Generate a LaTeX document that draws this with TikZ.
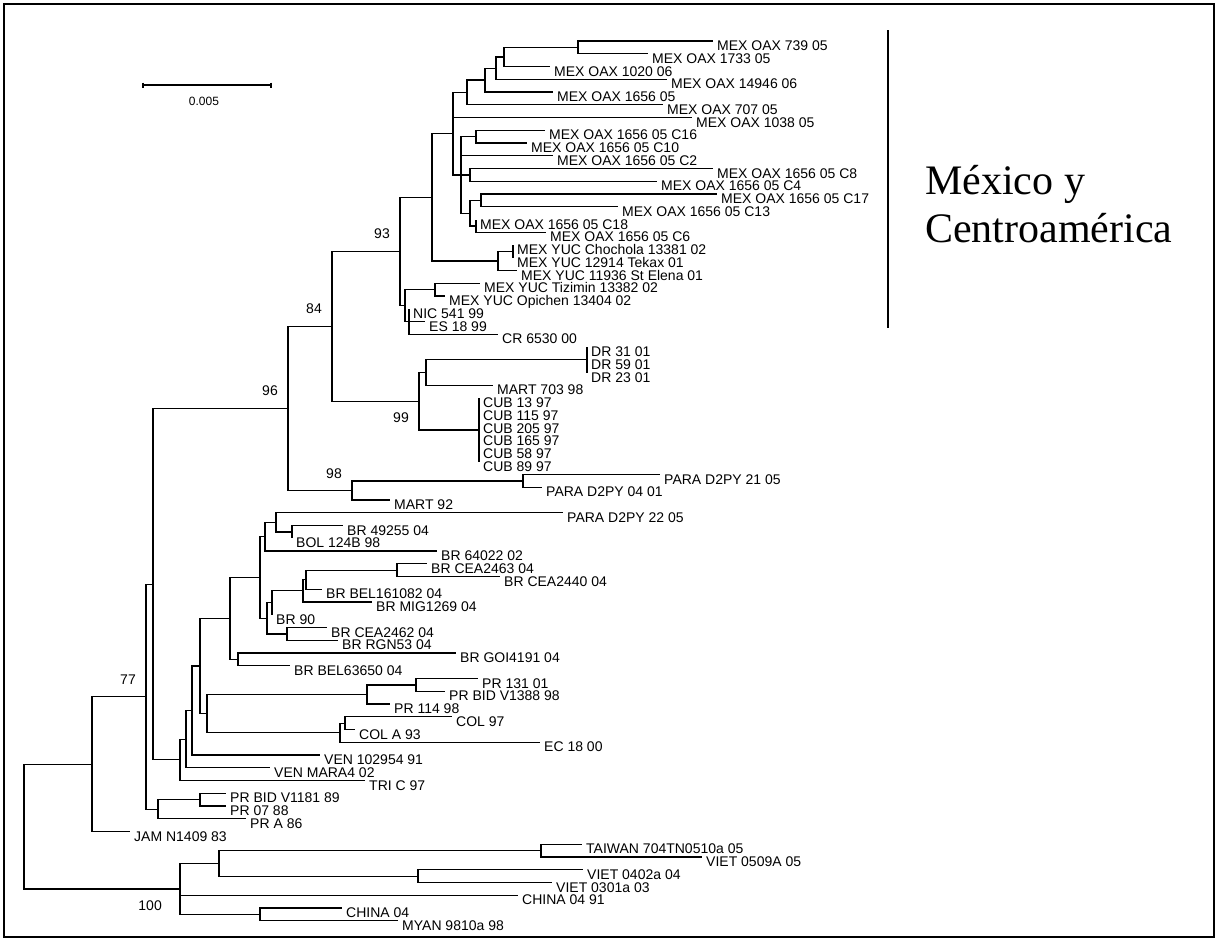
\documentclass[tikz,border=0pt]{standalone}
\usepackage{fontspec}
\setmainfont{Liberation Sans}
\newfontfamily\titlefont{Liberation Serif}
\tikzset{
  branch/.style={line width=1.2pt},
  leaf/.style={font=\fontsize{14}{14}\selectfont, inner sep=0pt, text height=10pt, text depth=0pt, xshift=4pt, yshift=-4.5pt},
  taxon/.style={label={[leaf]right:#1}},
  boot/.style={font=\fontsize{14}{14}\selectfont, inner sep=0pt, anchor=east}
}
\begin{document}
\begin{tikzpicture}[x=1pt,y=-1pt]
\useasboundingbox (0,0) rectangle (1218,940);
\draw[line width=1.5pt] (4,4) rectangle (1214,937);

% scale bar
\coordinate (s1) at (143,85);
\coordinate (s2) at (271,85);
\draw[branch] (s1) -- (s2);
\draw[branch] ([yshift=2.5pt]s1) -- ([yshift=-2.5pt]s1);
\draw[branch] ([yshift=2.5pt]s2) -- ([yshift=-2.5pt]s2);
\node[font=\fontsize{12}{12}\selectfont] (scale) at (204,101) {0.005};

% taxa
\coordinate[taxon=MEX OAX 739 05] (t1) at (713,41);
\coordinate[taxon=MEX OAX 1733 05] (t2) at (648,53.8);
\coordinate[taxon=MEX OAX 1020 06] (t3) at (550,66.5);
\coordinate[taxon=MEX OAX 14946 06] (t4) at (667,79.3);
\coordinate[taxon=MEX OAX 1656 05] (t5) at (553,92);
\coordinate[taxon=MEX OAX 707 05] (t6) at (663,104.8);
\coordinate[taxon=MEX OAX 1038 05] (t7) at (692,117.5);
\coordinate[taxon=MEX OAX 1656 05 C16] (t8) at (545,130.3);
\coordinate[taxon=MEX OAX 1656 05 C10] (t9) at (527,143);
\coordinate[taxon=MEX OAX 1656 05 C2] (t10) at (553,155.8);
\coordinate[taxon=MEX OAX 1656 05 C8] (t11) at (713,168.5);
\coordinate[taxon=MEX OAX 1656 05 C4] (t12) at (657,181.3);
\coordinate[taxon=MEX OAX 1656 05 C17] (t13) at (717,194);
\coordinate[taxon=MEX OAX 1656 05 C13] (t14) at (618,206.8);
\coordinate[taxon=MEX OAX 1656 05 C18] (t15) at (476,219.5);
\coordinate[taxon=MEX OAX 1656 05 C6] (t16) at (546,232.3);
\coordinate[taxon=MEX YUC Chochola 13381 02] (t17) at (513,245);
\coordinate[taxon=MEX YUC 12914 Tekax 01] (t18) at (513,257.8);
\coordinate[taxon=MEX YUC 11936 St Elena 01] (t19) at (517,270.5);
\coordinate[taxon=MEX YUC Tizimin 13382 02] (t20) at (480,283.3);
\coordinate[taxon=MEX YUC Opichen 13404 02] (t21) at (445,296);
\coordinate[taxon=NIC 541 99] (t22) at (409,308.8);
\coordinate[taxon=ES 18 99] (t23) at (425,321.5);
\coordinate[taxon=CR 6530 00] (t24) at (498,334.3);
\coordinate[taxon=DR 31 01] (t25) at (587,347);
\coordinate[taxon=DR 59 01] (t26) at (587,359.8);
\coordinate[taxon=DR 23 01] (t27) at (587,372.5);
\coordinate[taxon=MART 703 98] (t28) at (493,385.3);
\coordinate[taxon=CUB 13 97] (t29) at (479,398);
\coordinate[taxon=CUB 115 97] (t30) at (479,410.8);
\coordinate[taxon=CUB 205 97] (t31) at (479,423.5);
\coordinate[taxon=CUB 165 97] (t32) at (479,436.3);
\coordinate[taxon=CUB 58 97] (t33) at (479,449);
\coordinate[taxon=CUB 89 97] (t34) at (479,461.8);
\coordinate[taxon=PARA D2PY 21 05] (t35) at (660,474.5);
\coordinate[taxon=PARA D2PY 04 01] (t36) at (542,487.3);
\coordinate[taxon=MART 92] (t37) at (390,500);
\coordinate[taxon=PARA D2PY 22 05] (t38) at (563,512.8);
\coordinate[taxon=BR 49255 04] (t39) at (343,525.5);
\coordinate[taxon=BOL 124B 98] (t40) at (292,538.3);
\coordinate[taxon=BR 64022 02] (t41) at (437,551);
\coordinate[taxon=BR CEA2463 04] (t42) at (427,563.8);
\coordinate[taxon=BR CEA2440 04] (t43) at (500,576.5);
\coordinate[taxon=BR BEL161082 04] (t44) at (322,589.3);
\coordinate[taxon=BR MIG1269 04] (t45) at (372,602);
\coordinate[taxon=BR 90] (t46) at (272,614.8);
\coordinate[taxon=BR CEA2462 04] (t47) at (327,627.5);
\coordinate[taxon=BR RGN53 04] (t48) at (338,640.3);
\coordinate[taxon=BR GOI4191 04] (t49) at (456,653);
\coordinate[taxon=BR BEL63650 04] (t50) at (290,665.8);
\coordinate[taxon=PR 131 01] (t51) at (478,678.5);
\coordinate[taxon=PR BID V1388 98] (t52) at (445,691.3);
\coordinate[taxon=PR 114 98] (t53) at (390,704);
\coordinate[taxon=COL 97] (t54) at (452,716.8);
\coordinate[taxon=COL A 93] (t55) at (355,729.5);
\coordinate[taxon=EC 18 00] (t56) at (540,742.3);
\coordinate[taxon=VEN 102954 91] (t57) at (320,755);
\coordinate[taxon=VEN MARA4 02] (t58) at (270,767.8);
\coordinate[taxon=TRI C 97] (t59) at (365,780.5);
\coordinate[taxon=PR BID V1181 89] (t60) at (226,793.3);
\coordinate[taxon=PR 07 88] (t61) at (226,806);
\coordinate[taxon=PR A 86] (t62) at (246,818.8);
\coordinate[taxon=JAM N1409 83] (t63) at (130,831.5);
\coordinate[taxon=TAIWAN 704TN0510a 05] (t64) at (582,844.3);
\coordinate[taxon=VIET 0509A 05] (t65) at (702,857);
\coordinate[taxon=VIET 0402a 04] (t66) at (583,869.8);
\coordinate[taxon=VIET 0301a 03] (t67) at (552,882.5);
\coordinate[taxon=CHINA 04 91] (t68) at (518,895.3);
\coordinate[taxon=CHINA 04] (t69) at (342,908);
\coordinate[taxon=MYAN 9810a 98] (t70) at (398,920.8);

% inner nodes, Mexico
\coordinate (nA) at (578,47.4);
\coordinate (nB) at (504,57);
\coordinate (nC) at (496,68.1);
\coordinate (nD) at (485,80);
\coordinate (nE) at (467,92.4);
\coordinate (nH) at (476,136.6);
\coordinate (nI) at (470,174.9);
\coordinate (nJ) at (481,200.4);
\coordinate (nL) at (476,225.9);
\coordinate (nK) at (470,213.1);
\coordinate (nG) at (461,174.9);
\coordinate (nF) at (453,133.6);
\coordinate (nO) at (513,251.4);
\coordinate (nN) at (498,261);
\coordinate (nM) at (432,197.3);
\coordinate (nR) at (435,289.6);
\coordinate (nS) at (409,321.5);
\coordinate (nQ) at (405,305.6);
\coordinate (nP) at (400,251.4);
% Caribbean, Paraguay
\coordinate (nDR) at (587,359.8);
\coordinate (nV) at (426,372.5);
\coordinate (nCU) at (479,429.9);
\coordinate (nU) at (419,401.2);
\coordinate (nT) at (332,326.3);
\coordinate (nPA) at (523,481);
\coordinate (nPM) at (352,490.6);
\coordinate (nX) at (288,408.5);
% South America
\coordinate (nBD) at (292,531.9);
\coordinate (nBC) at (276,522.3);
\coordinate (nBA) at (265,536.7);
\coordinate (nBK) at (397,570.1);
\coordinate (nBJ) at (306,579.7);
\coordinate (nBI) at (303,590.8);
\coordinate (nBG) at (272,602.8);
\coordinate (nBH) at (287,633.9);
\coordinate (nBF) at (267,618.3);
\coordinate (nBE) at (260,577.5);
\coordinate (nBM) at (238,659.4);
\coordinate (nBL) at (230,618.4);
\coordinate (nSR) at (416,684.9);
\coordinate (nSP) at (367,694.4);
\coordinate (nST) at (345,723.1);
\coordinate (nSQ) at (340,732.7);
\coordinate (nSE) at (207,713.6);
\coordinate (nSD) at (200,666);
\coordinate (nSC) at (192,710.5);
\coordinate (nSB) at (186,739.1);
\coordinate (nSA) at (180,759.8);
\coordinate (nY) at (153,584.2);
\coordinate (nPH) at (200,799.6);
\coordinate (nPG) at (158,809.2);
\coordinate (nAm) at (146,696.7);
\coordinate (nZ) at (92,764.1);
% Asia
\coordinate (nAT) at (541,850.6);
\coordinate (nAV) at (418,876.1);
\coordinate (nAA) at (219,863.4);
\coordinate (nAC) at (260,914.4);
\coordinate (nAs) at (180,888.9);
\coordinate (root) at (24,826.5);

% branches
\draw[branch] (nA) |- (t1) (nA) |- (t2) (nB) |- (nA) (nB) |- (t3)
  (nC) |- (nB) (nC) |- (t4) (nD) |- (nC) (nD) |- (t5)
  (nE) |- (nD) (nE) |- (t6) (nF) |- (nE) (nF) |- (t7) (nF) |- (nG)
  (nH) |- (t8) (nH) |- (t9) (nI) |- (t11) (nI) |- (t12)
  (nJ) |- (t13) (nJ) |- (t14) (nL) |- (t15) (nL) |- (t16)
  (nK) |- (nJ) (nK) |- (nL)
  (nG) |- (nH) (nG) |- (t10) (nG) |- (nI) (nG) |- (nK)
  (nO) |- (t17) (nO) |- (t18) (nN) |- (nO) (nN) |- (t19)
  (nM) |- (nF) (nM) |- (nN)
  (nR) |- (t20) (nR) |- (t21)
  (nS) |- (t22) (nS) |- (t23) (nS) |- (t24)
  (nQ) |- (nR) (nQ) |- (nS) (nP) |- (nM) (nP) |- (nQ);
\draw[branch] (nDR) |- (t25) (nDR) |- (t26) (nDR) |- (t27)
  (nV) |- (nDR) (nV) |- (t28)
  (nCU) |- (t29) (nCU) |- (t34) (nCU) |- (t30) (nCU) |- (t31) (nCU) |- (t32) (nCU) |- (t33)
  (nU) |- (nV) (nU) |- (nCU) (nT) |- (nP) (nT) |- (nU)
  (nPA) |- (t35) (nPA) |- (t36) (nPM) |- (nPA) (nPM) |- (t37)
  (nX) |- (nT) (nX) |- (nPM);
\draw[branch] (nBD) |- (t39) (nBD) |- (t40) (nBC) |- (t38) (nBC) |- (nBD)
  (nBA) |- (nBC) (nBA) |- (t41)
  (nBK) |- (t42) (nBK) |- (t43) (nBJ) |- (nBK) (nBJ) |- (t44)
  (nBI) |- (nBJ) (nBI) |- (t45) (nBG) |- (nBI) (nBG) |- (t46)
  (nBH) |- (t47) (nBH) |- (t48) (nBF) |- (nBG) (nBF) |- (nBH)
  (nBE) |- (nBA) (nBE) |- (nBF)
  (nBM) |- (t49) (nBM) |- (t50) (nBL) |- (nBE) (nBL) |- (nBM)
  (nSR) |- (t51) (nSR) |- (t52) (nSP) |- (nSR) (nSP) |- (t53)
  (nST) |- (t54) (nST) |- (t55) (nSQ) |- (nST) (nSQ) |- (t56)
  (nSE) |- (nSP) (nSE) |- (nSQ) (nSD) |- (nBL) (nSD) |- (nSE)
  (nSC) |- (nSD) (nSC) |- (t57) (nSB) |- (nSC) (nSB) |- (t58)
  (nSA) |- (nSB) (nSA) |- (t59)
  (nY) |- (nX) (nY) |- (nSA)
  (nPH) |- (t60) (nPH) |- (t61) (nPG) |- (nPH) (nPG) |- (t62)
  (nAm) |- (nY) (nAm) |- (nPG) (nZ) |- (nAm) (nZ) |- (t63);
\draw[branch] (nAT) |- (t64) (nAT) |- (t65) (nAV) |- (t66) (nAV) |- (t67)
  (nAA) |- (nAT) (nAA) |- (nAV)
  (nAC) |- (t69) (nAC) |- (t70)
  (nAs) |- (nAA) (nAs) |- (t68) (nAs) |- (nAC)
  (root) |- (nZ) (root) |- (nAs);

% bootstrap values
\node[boot] (b93) at (390,234) {93};
\node[boot] (b84) at (322,309) {84};
\node[boot] (b96) at (278,391) {96};
\node[boot] (b99) at (409,418) {99};
\node[boot] (b98) at (342,474) {98};
\node[boot] (b77) at (136,680) {77};
\node[boot] (b100) at (162,906) {100};

% clade mark
\coordinate (c1) at (888,30);
\coordinate (c2) at (888,328);
\draw[branch] (c1) -- (c2);
\node[anchor=west, align=left, inner sep=0pt, font=\titlefont\fontsize{42}{48}\selectfont] (title) at (925,204) {México y\\Centroamérica};
\end{tikzpicture}
\end{document}
